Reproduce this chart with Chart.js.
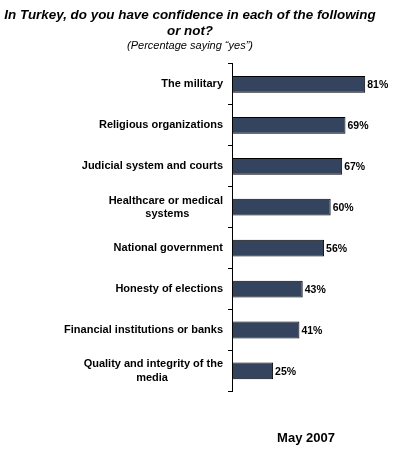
<!DOCTYPE html>
<html>
<head>
<meta charset="utf-8">
<script src="https://cdn.jsdelivr.net/npm/chart.js@4"></script>
<style>
  html, body { margin: 0; padding: 0; background: #fff; }
  #wrap { width: 394px; height: 460px; }
</style>
</head>
<body>
<div id="wrap"><canvas id="c" width="394" height="460"></canvas></div>
<script>
const categories = [
  "The military",
  "Religious organizations",
  "Judicial system and courts",
  ["Healthcare or medical", "systems           "],
  "National government",
  "Honesty of elections",
  "Financial institutions or banks",
  ["Quality and integrity of the", "media                  "]
];
const yesValues = [81, 69, 67, 60, 56, 43, 41, 25];
const titleLines = ["In Turkey, do you have confidence in each of the following", "or not?"];
const subtitleText = "(Percentage saying \u201Cyes\u201D)";
const dateLabel = "May 2007";

const FONT = "Arial, 'Liberation Sans', sans-serif";

const valueLabels = {
  id: 'valueLabels',
  afterDatasetsDraw(chart) {
    const ctx = chart.ctx;
    const meta = chart.getDatasetMeta(0);
    ctx.save();
    ctx.font = "bold 10.5px " + FONT;
    ctx.fillStyle = "#000";
    ctx.textAlign = "left";
    ctx.textBaseline = "middle";
    meta.data.forEach((bar, i) => {
      ctx.fillText(yesValues[i] + "%", bar.x + 2, bar.y + 1);
    });
    ctx.restore();
  }
};

new Chart(document.getElementById('c'), {
  type: 'bar',
  data: {
    labels: categories,
    datasets: [{
      data: yesValues,
      backgroundColor: '#34435e',
      borderColor: '#000',
      borderWidth: 1,
      borderSkipped: false,
      barPercentage: 0.41,
      categoryPercentage: 1.0
    }]
  },
  options: {
    indexAxis: 'y',
    responsive: false,
    animation: false,
    devicePixelRatio: 1,
    layout: { padding: { left: 0, right: 14, top: 0, bottom: 0 } },
    plugins: {
      legend: { display: false },
      tooltip: { enabled: false },
      title: {
        display: true,
        text: titleLines,
        color: '#000',
        font: { family: FONT, size: 13.4, weight: 'bold', style: 'italic', lineHeight: 1.2 },
        padding: { top: 7, bottom: 0 }
      },
      subtitle: {
        display: true,
        text: subtitleText,
        color: '#000',
        font: { family: FONT, size: 11, style: 'italic', lineHeight: 1.2 },
        padding: { top: 0, bottom: 11.6 }
      }
    },
    scales: {
      x: {
        min: 0,
        max: 90,
        display: true,
        grid: { display: false },
        border: { display: false },
        ticks: { display: false },
        title: {
          display: true,
          text: dateLabel,
          color: '#000',
          font: { family: FONT, size: 13, weight: 'bold', lineHeight: 1.2 },
          padding: { top: 31, bottom: 14 }
        }
      },
      y: {
        afterFit(scale) { scale.width = 232; },
        grid: {
          display: true,
          offset: true,
          drawOnChartArea: false,
          drawTicks: true,
          tickLength: 4,
          color: '#000'
        },
        border: { display: true, color: '#000', width: 1 },
        ticks: {
          color: '#000',
          padding: 5,
          font: { family: FONT, size: 11, weight: 'bold', lineHeight: 1.2 }
        }
      }
    }
  },
  plugins: [valueLabels]
});
</script>
</body>
</html>
